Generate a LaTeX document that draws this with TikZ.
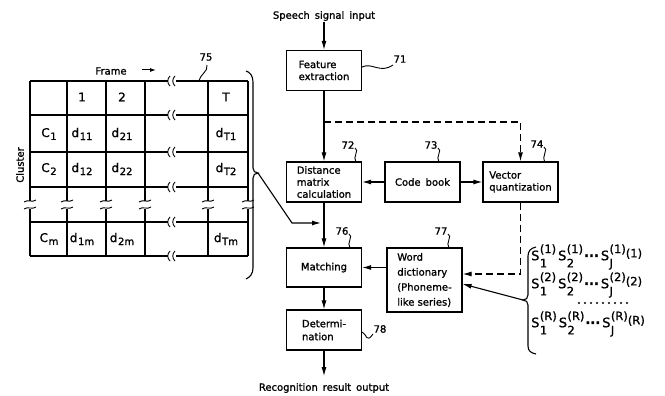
\documentclass[tikz,border=0pt]{standalone}
\usepackage{fontspec}
\setmainfont{DejaVu Sans}[RawFeature={embolden=1.2}]
\usetikzlibrary{arrows.meta}
\newcommand\dsub[2]{#1\kern0.6pt\raisebox{-0.45ex}{\fontsize{10}{12}\selectfont #2}}
\newcommand\Sterm[2]{S\kern0.4pt\rlap{\raisebox{-1.0ex}{\fontsize{11.5}{13}\selectfont #2}}\raisebox{1.0ex}{\fontsize{11.5}{13}\selectfont(#1)}}
\begin{document}
\begin{tikzpicture}[x=1pt,y=-1pt,
  box/.style={draw, line width=1.1pt, minimum width=75pt, minimum height=40pt, inner sep=0pt, align=left, font=\fontsize{10}{12}\selectfont},
  conn/.style={line width=1.1pt, -{Latex[length=9pt,width=5pt]}},
  dconn/.style={conn, dash pattern=on 7pt off 4pt},
  lbl/.style={font=\fontsize{10}{12}\selectfont, inner sep=1pt},
  cell/.style={font=\fontsize{12}{14}\selectfont, inner sep=1pt},
  lead/.style={line width=0.9pt},
  tline/.style={line width=1.1pt},
  brk/.style={line width=0.9pt},
  srow/.style={font=\fontsize{13}{15}\selectfont, anchor=west, inner sep=0pt}]
\useasboundingbox (0,0) rectangle (665,396);

% ---------------- table ----------------
\foreach \x in {30,67,106,145,208,248} {
  \draw[tline] (\x,81) -- (\x,201);
  \draw[tline] (\x,209) -- (\x,256);
  \draw[brk] (\x-6,202) .. controls (\x-2,199) and (\x+2,203) .. (\x+6,200);
  \draw[brk] (\x-6,209) .. controls (\x-2,206) and (\x+2,210) .. (\x+6,207);
}
\foreach \y in {81,115,152,187,222,256} {
  \draw[tline] (30,\y) -- (168,\y);
  \draw[tline] (176,\y) -- (248,\y);
  \draw[brk] (170,\y-5) .. controls (167,\y-2) and (167,\y+2) .. (170,\y+5);
  \draw[brk] (175,\y-5) .. controls (172,\y-2) and (172,\y+2) .. (175,\y+5);
}
\node[cell] (h1) at (82,97) {1};
\node[cell] (h2) at (122,97) {2};
\node[cell] (hT) at (226,97) {T};
\node[cell] (c1) at (49,134) {\dsub{C}{1}};
\node[cell] (d11) at (82,134) {\dsub{d}{11}};
\node[cell] (d21) at (122,134) {\dsub{d}{21}};
\node[cell] (dT1) at (226,134) {\dsub{d}{T1}};
\node[cell] (c2) at (49,169) {\dsub{C}{2}};
\node[cell] (d12) at (82,169) {\dsub{d}{12}};
\node[cell] (d22) at (122,169) {\dsub{d}{22}};
\node[cell] (dT2) at (226,169) {\dsub{d}{T2}};
\node[cell] (cm) at (49,239) {\dsub{C}{m}};
\node[cell] (d1m) at (82,239) {\dsub{d}{1m}};
\node[cell] (d2m) at (122,239) {\dsub{d}{2m}};
\node[cell] (dTm) at (226,239) {\dsub{d}{Tm}};

\node[lbl] (frame) at (111,71) {Frame};
\coordinate (fa1) at (142,70);
\coordinate (fa2) at (156,70);
\draw[line width=1pt, -{Latex[length=6pt,width=4pt]}] (fa1) -- (fa2);
\node[lbl, rotate=90] (cluster) at (20,165) {Cluster};

\node[lbl] (l75) at (206,57) {75};
\draw[lead] (207,65) .. controls (208,72) and (201,73) .. (199,81);

% table brace
\coordinate (tip1) at (258,173);
\draw[tline] (246,71) .. controls (250,72) and (253,76) .. (253,82) -- (253,168)
  .. controls (253,171) and (255,173) .. (tip1)
  .. controls (255,173) and (253,175) .. (253,178) -- (253,268)
  .. controls (253,274) and (250,277) .. (246,279);

% ---------------- blocks ----------------
\node[lbl] (in) at (324,16) {Speech\enspace signal\enspace input};
\node[box] (fe) at (324,70.5) {Feature\\extraction};
\node[box] (dm) at (324,182) {Distance\\matrix\\calculation};
\node[box, align=center] (cb) at (422.5,182) {Code\enspace book};
\node[box] (vq) at (520.5,182) {Vector\\quantization};
\node[box, minimum height=39pt] (mt) at (324,267.5) {Matching};
\node[box, minimum height=64pt, font=\fontsize{10}{15}\selectfont] (wd) at (424.5,280) {Word\\dictionary\\(Phoneme-\\like series)};
\node[box, font=\fontsize{10}{13}\selectfont] (dt) at (324,330) {Determi-\\nation};
\node[lbl, outer sep=6pt] (out) at (324,388) {Recognition\enspace result\enspace output};

\draw[conn] (fe.north |- in.south) -- (fe.north);
\draw[conn] (fe) -- (dm);
\coordinate (j1) at (324,122);
\draw[dconn] (j1) -| (vq.north);
\draw[conn] (cb.west) -- (dm.east);
\draw[conn] (cb.east) -- (vq.west);
\draw[conn] (dm) -- (mt);
\draw[conn] (wd.west |- mt.east) -- (mt.east);
\draw[conn] (mt) -- (dt);
\draw[conn] (dt) -- (out);
\coordinate (c2) at (0,274);
\draw[dconn] (vq.south) |- (wd.east |- c2);
\coordinate (bend) at (292,223);
\draw[conn, shorten >=3pt] (tip1) -- (bend) -- (dm.south |- bend);

% labels with leaders
\node[lbl] (l71) at (400,59) {71};
\draw[lead] (fe.east |- 0,67) .. controls (372,62) and (380,74) .. (393,65);
\node[lbl] (l72) at (348,145) {72};
\draw[lead] (355,148) .. controls (360,150) and (352,157) .. (356,162);
\node[lbl] (l73) at (431,145) {73};
\draw[lead] (438,148) .. controls (443,150) and (435,157) .. (439,162);
\node[lbl] (l74) at (537,144) {74};
\draw[lead] (544,147) .. controls (549,149) and (541,156) .. (545,162);
\node[lbl] (l76) at (342,231) {76};
\draw[lead] (349,234) .. controls (354,236) and (346,243) .. (350,248);
\node[lbl] (l77) at (441,231) {77};
\draw[lead] (448,234) .. controls (453,236) and (445,243) .. (449,248);
\node[lbl] (l78) at (380,329) {78};
\draw[lead] (dt.east |- 0,332) .. controls (367,334) and (366,344) .. (373,334);

% ---------------- S series ----------------
\coordinate (tip2) at (523,300);
\draw[tline] (536,247) .. controls (531,248) and (528,251) .. (528,256) -- (528,295)
  .. controls (528,298) and (526,300) .. (tip2)
  .. controls (526,300) and (528,302) .. (528,305) -- (528,346)
  .. controls (528,351) and (531,353) .. (536,354);
\coordinate (c3) at (0,284);
\draw[conn] (tip2) -- (wd.east |- c3);

\node[srow] (s1) at (531,257) {\Sterm{1}{1}\kern2pt\Sterm{1}{2}\kern1pt\textbf{···}\kern2pt\Sterm{1}{J}\raisebox{0.4ex}{\fontsize{11.5}{13}\selectfont(1)}};
\node[srow] (s2) at (531,285) {\Sterm{2}{1}\kern2pt\Sterm{2}{2}\kern1pt\textbf{···}\kern2pt\Sterm{2}{J}\raisebox{0.4ex}{\fontsize{11.5}{13}\selectfont(2)}};
\node[srow] (s3) at (531,324) {\Sterm{R}{1}\kern2pt\Sterm{R}{2}\kern1pt\textbf{···}\kern2pt\Sterm{R}{J}\raisebox{0.4ex}{\fontsize{11.5}{13}\selectfont(R)}};
\foreach \i in {0,...,8} { \fill (579+6*\i,303) circle (1.2pt); }
\end{tikzpicture}
\end{document}
